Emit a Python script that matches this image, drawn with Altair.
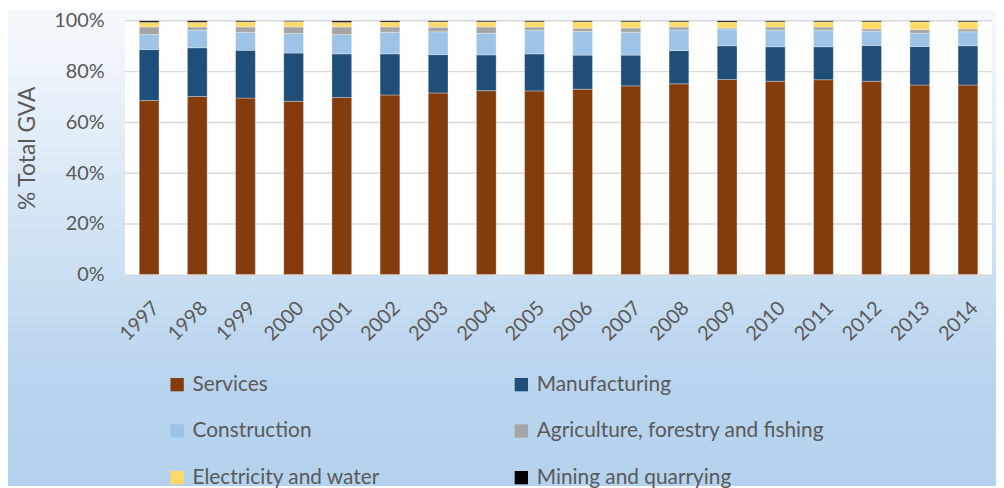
import altair as alt
import pandas as pd

years = [str(y) for y in range(1997, 2015)]
services = [68.6, 70.2, 69.6, 68.3, 69.8, 70.8, 71.6, 72.5, 72.4, 73.1, 74.4, 75.2, 76.9, 76.2, 76.8, 76.2, 74.7, 74.7]
manufacturing = [20.1, 19.2, 18.8, 19.0, 17.2, 16.2, 15.1, 14.1, 14.6, 13.4, 12.1, 13.1, 13.3, 13.6, 13.0, 14.1, 15.2, 15.5]
construction = [5.9, 6.9, 7.1, 7.7, 7.6, 8.5, 9.0, 8.5, 9.3, 9.3, 9.0, 8.1, 6.6, 6.5, 6.5, 5.6, 5.2, 5.5]
agriculture = [3.0, 1.3, 2.1, 2.6, 3.0, 2.1, 1.8, 2.5, 1.3, 1.3, 1.7, 1.2, 0.4, 1.3, 1.3, 0.9, 1.5, 1.1]
electricity = [1.8, 1.8, 2.0, 2.1, 1.8, 1.9, 2.1, 2.0, 2.0, 2.5, 2.4, 2.0, 2.3, 2.0, 2.0, 2.8, 3.0, 2.8]
mining = [0.6, 0.6, 0.4, 0.3, 0.6, 0.5, 0.4, 0.4, 0.4, 0.4, 0.4, 0.4, 0.5, 0.4, 0.4, 0.4, 0.4, 0.4]

sectors = ["Services", "Manufacturing", "Construction",
           "Agriculture, forestry and fishing", "Electricity and water", "Mining and quarrying"]
colors = ["#843C0C", "#1F4E79", "#9DC3E6", "#A5A5A5", "#FFD966", "#000000"]
grid_values = [0.2, 0.4, 0.6, 0.8, 1.0]

series = [services, manufacturing, construction, agriculture, electricity, mining]
rows = []
for si, (name, vals) in enumerate(zip(sectors, series)):
    for y, v in zip(years, vals):
        rows.append({"year": y, "sector": name, "value": v, "order": si})
df = pd.DataFrame(rows)

W, H = 874, 256
PAD = {"left": 118, "top": 11, "right": 4, "bottom": 213}
font = "Lato"
gray = "#595959"

bg = alt.Chart(pd.DataFrame({"a": [0]})).mark_rect(
    color=alt.Gradient(
        gradient="linear",
        stops=[
            alt.GradientStop(color="#f6f9fc", offset=0),
            alt.GradientStop(color="#cfe2f3", offset=0.5),
            alt.GradientStop(color="#bad5ee", offset=0.75),
            alt.GradientStop(color="#b4d2ed", offset=1),
        ],
        x1=0, x2=0, y1=0, y2=1,
    )
).encode(
    x=alt.value(-PAD["left"]), x2=alt.value(W + PAD["right"]),
    y=alt.value(-PAD["top"]), y2=alt.value(H + PAD["bottom"]),
)

plotbg = alt.Chart(pd.DataFrame({"a": [0]})).mark_rect(color="white").encode(
    x=alt.value(0), x2=alt.value(W), y=alt.value(0), y2=alt.value(H)
)

grid = alt.Chart(pd.DataFrame({"v": grid_values})).mark_rule(
    color="#d9d9d9", strokeWidth=1.5
).encode(y=alt.Y("v:Q"))

bars = alt.Chart(df).mark_bar(stroke="white", strokeWidth=0.6, strokeOpacity=0.5).encode(
    x=alt.X("year:O", sort=years,
            scale=alt.Scale(paddingInner=0.59, paddingOuter=0.295),
            axis=alt.Axis(title=None, labelAngle=-45, labelFontSize=20, labelFont=font,
                          labelColor=gray, labelPadding=23, ticks=False,
                          domainColor="#d9d9d9", domainWidth=1.5, zindex=1)),
    y=alt.Y("value:Q", stack="normalize",
            scale=alt.Scale(domain=[0, 1]),
            axis=alt.Axis(title="% Total GVA", format=".0%", values=[0, 0.2, 0.4, 0.6, 0.8, 1.0],
                          grid=False, ticks=False, domain=False,
                          labelFontSize=20, labelFont=font, labelColor=gray, labelPadding=21,
                          titleFontSize=23, titleFont=font, titleColor=gray,
                          titleFontWeight="normal", titlePadding=14, zindex=1)),
    color=alt.Color("sector:N", sort=sectors,
                    scale=alt.Scale(domain=sectors, range=colors),
                    legend=alt.Legend(title=None, orient="none", legendX=42, legendY=356,
                                      direction="horizontal",
                                      columns=2, columnPadding=131, rowPadding=25,
                                      symbolType="square", symbolSize=180, symbolStrokeWidth=0,
                                      labelFontSize=21, labelFont=font, labelColor=gray,
                                      labelOffset=5, labelLimit=500, padding=0, zindex=1)),
    order=alt.Order("order:Q", sort="ascending"),
)

chart = alt.layer(bg, plotbg, grid, bars).properties(
    width=W, height=H, padding=PAD, autosize=alt.AutoSizeParams(type="none")
).configure_view(stroke=None).configure(font=font)

chart.save("out.html", embed_options={"renderer": "svg", "actions": False})
